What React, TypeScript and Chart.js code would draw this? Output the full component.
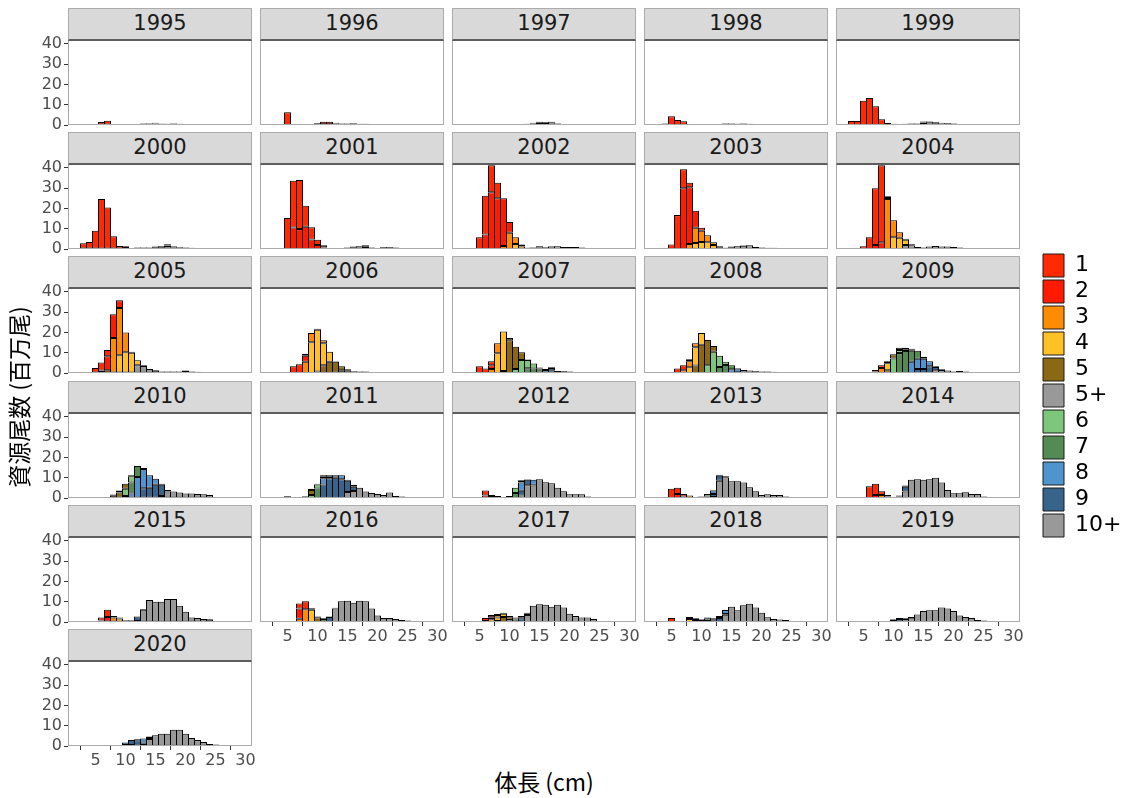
import React, { useEffect, useRef } from 'react';
import { Chart, registerables } from 'chart.js';

Chart.register(...registerables);

// ---- categories / legend ----
const AGES = ['1', '2', '3', '4', '5', '5+', '6', '7', '8', '9', '10+'];
const AGE_COLORS = ['#FF2A00', '#FF1A00', '#FF8C00', '#FFC125', '#8B6914', '#999999', '#7CC77C', '#548B54', '#4F94CD', '#36648B', '#999999'];
const YEARS = [1995, 1996, 1997, 1998, 1999, 2000, 2001, 2002, 2003, 2004, 2005, 2006, 2007, 2008, 2009, 2010, 2011, 2012, 2013, 2014, 2015, 2016, 2017, 2018, 2019, 2020];
const X_TICKS = [5, 10, 15, 20, 25, 30];
const Y_TICKS = [0, 10, 20, 30, 40];
const X_TITLE = '体長 (cm)';
const Y_TITLE = '資源尾数 (百万尾)';

// each entry: age -> [first length bin (cm), values (million fish) for consecutive 1-cm bins]
type Series = Record<string, [number, number[]]>;

const Y1995: Series = {
  '1': [4, [0.2, 0.4, 1.2, 1.8, 0.3, 0.2]],
  '2': [6, [0.3, 0.3, 0.2, 0.2, 0.2, 0.3]],
  '3': [12, [0.3, 0.3, 0.2, 0.2]],
  '4': [13, [0.3, 0.3, 0.3, 0.2]],
  '5': [14, [0.2, 0.3, 0.3, 0.2, 0.2]],
  '5+': [13, [0.2, 0.2, 0.3, 0.3, 0.4, 0.5, 0.6, 0.5, 0.4, 0.3, 0.2]],
};
const Y1996: Series = {
  '1': [4, [0.2, 6.3, 0.3, 0.2, 0.2]],
  '2': [9, [0.3, 0.6, 1.2, 1.2, 0.4]],
  '3': [10, [0.3, 0.4, 0.4, 0.3]],
  '4': [13, [0.2, 0.3, 0.3, 0.3]],
  '5': [14, [0.2, 0.3, 0.5, 0.3, 0.2]],
  '5+': [13, [0.2, 0.2, 0.2, 0.2, 0.3, 0.4, 0.4, 0.4, 0.3, 0.2, 0.1]],
};
const Y1997: Series = {
  '1': [3, [0.2, 0.2, 0.2, 0.2, 0.2]],
  '2': [7, [0.2, 0.2, 0.2, 0.3, 0.3]],
  '3': [11, [0.2, 0.3, 0.3, 0.4, 0.5, 0.4, 0.3]],
  '4': [13, [0.3, 0.4, 0.6, 0.6, 0.6, 0.3]],
  '5': [14, [0.2, 0.3, 0.3, 0.4, 0.3, 0.2]],
  '5+': [14, [0.1, 0.2, 0.2, 0.3, 0.3, 0.3, 0.3, 0.2, 0.1]],
};
const Y1998: Series = {
  '1': [4, [0.7, 4.3, 2.5, 1.8, 0.3]],
  '2': [8, [0.2, 0.2, 0.2, 0.2, 0.2]],
  '3': [12, [0.2, 0.2, 0.3]],
  '4': [13, [0.2, 0.2, 0.2, 0.2]],
  '5': [14, [0.2, 0.3, 0.3, 0.3, 0.2]],
  '5+': [14, [0.2, 0.2, 0.3, 0.4, 0.4, 0.4, 0.3, 0.2]],
};
const Y1999: Series = {
  '1': [3, [2.0, 2.0, 12.0, 13.3, 9.2, 2.8, 1.0, 0.3]],
  '2': [10, [0.3, 0.4, 0.4, 0.4]],
  '3': [12, [0.2, 0.3, 0.4, 0.5, 0.4]],
  '4': [14, [0.3, 0.7, 0.6, 0.3]],
  '5': [15, [0.3, 0.4, 0.4, 0.3]],
  '5+': [15, [0.2, 0.3, 0.6, 0.8, 0.9, 0.8, 0.5, 0.3]],
};
const Y2000: Series = {
  '1': [3, [2.8, 3.5, 9.0, 24.6, 20.5, 6.0, 1.2, 0.8]],
  '2': [8, [0.3, 0.3, 0.5, 0.5, 0.4, 0.3]],
  '3': [12, [0.3, 0.4, 0.6, 0.6, 0.5, 0.6, 0.3]],
  '4': [14, [0.2, 0.3, 0.4, 0.9, 0.4]],
  '5': [15, [0.2, 0.3, 0.5, 0.3, 0.3]],
  '5+': [15, [0.1, 0.2, 0.3, 0.5, 0.7, 0.7, 0.6, 0.5, 0.3, 0.1]],
};
const Y2001: Series = {
  '1': [4, [0.3, 15.3, 23.0, 24.2, 10.3, 6.0, 2.5, 1.0]],
  '2': [6, [10.6, 9.8, 11.0, 4.7, 2.0, 0.8, 0.3]],
  '3': [12, [0.2, 0.3, 0.3, 0.4, 0.6, 0.5, 0.4]],
  '4': [15, [0.3, 0.3, 0.4, 1.0, 0.3]],
  '5': [16, [0.2, 0.3, 0.3, 0.3, 0.2]],
  '5+': [16, [0.1, 0.1, 0.1, 0.2, 0.3, 0.9, 0.9, 0.7, 0.3, 0.2]],
};
const Y2002: Series = {
  '1': [5, [5.8, 19.1, 13.3, 7.7]],
  '2': [6, [7.2, 28.0, 25.0, 23.5, 5.3]],
  '3': [9, [1.5, 8.0, 3.3, 1.0, 0.2, 0.2, 0.4, 0.2]],
  '4': [11, [2.5, 1.2, 0.3, 0.2, 0.4, 0.3]],
  '5': [13, [0.3, 0.3, 0.4, 0.3, 0.3]],
  '5+': [14, [0.2, 0.3, 0.2, 1.2, 1.4, 1.0, 1.0, 1.0, 0.7, 0.5, 0.3]],
};
const Y2003: Series = {
  '1': [4, [0.5, 2.2, 16.7, 9.3, 2.2]],
  '2': [7, [30.0, 28.0, 8.3, 1.5]],
  '3': [8, [2.5, 7.5, 5.5, 3.5, 1.3, 0.4, 0.2]],
  '4': [9, [3.0, 3.5, 3.3, 2.0, 0.5, 0.2]],
  '5': [13, [0.4, 0.3, 0.3, 0.2, 0.2]],
  '5+': [14, [0.1, 0.9, 1.3, 1.6, 1.8, 1.0, 0.7, 0.6, 0.6, 0.3, 0.2]],
};
const Y2004: Series = {
  '1': [4, [0.3, 1.3, 5.8, 28.0, 38.0, 0.8]],
  '2': [7, [2.0, 3.3, 0.5]],
  '3': [9, [24.7, 8.4, 2.8, 0.5]],
  '4': [10, [5.8, 5.5, 2.5, 0.4]],
  '5+': [12, [2.0, 1.9, 1.0, 0.7, 1.2, 1.5, 1.2, 1.2, 1.0, 0.8, 0.5, 0.4, 0.2]],
};
const Y2005: Series = {
  '1': [5, [2.5, 4.0, 3.0]],
  '2': [6, [1.2, 7.0, 11.7, 3.7]],
  '3': [7, [1.3, 17.2, 23.3, 9.8, 0.5]],
  '4': [9, [8.8, 10.2, 10.0, 2.5, 0.3]],
  '5+': [12, [3.8, 3.5, 2.0, 1.3, 0.8, 0.8, 0.8, 0.8, 1.2, 0.8, 0.6, 0.4, 0.2]],
};
const Y2006: Series = {
  '1': [5, [0.3, 3.3, 4.3, 1.0]],
  '2': [8, [3.0]],
  '3': [8, [5.5, 4.5, 0.5, 1.5]],
  '4': [9, [15.2, 20.5, 10.9, 5.0, 0.3]],
  '5': [10, [0.8, 3.8, 5.5, 5.2, 2.0, 0.5]],
  '6': [13, [0.3, 1.0, 0.7, 0.3]],
  '7': [14, [0.3, 0.6, 0.4, 0.3, 0.3]],
  '8': [16, [0.3, 0.3, 0.3, 0.3, 0.2]],
  '9': [17, [0.2, 0.2, 0.2, 0.2, 0.2]],
};
const Y2007: Series = {
  '1': [4, [0.3, 3.3, 2.2, 2.0]],
  '2': [7, [1.8]],
  '3': [7, [2.0, 5.0]],
  '4': [8, [9.7, 19.5, 1.0]],
  '5': [9, [1.0, 16.2, 11.0, 3.8, 0.3]],
  '6': [11, [2.0, 6.4, 4.0, 2.5, 0.5]],
  '7': [13, [2.4, 2.2, 2.0, 0.5, 0.3]],
  '8': [15, [0.2, 1.3, 1.2, 0.5, 0.4]],
  '9': [16, [0.2, 1.3, 0.5, 0.6, 0.4, 0.3]],
  '10+': [20, [0.3, 0.2, 0.3, 0.3, 0.3]],
};
const Y2008: Series = {
  '1': [5, [0.3, 2.2, 2.5, 1.0]],
  '3': [7, [1.3, 3.0, 2.0]],
  '4': [8, [2.8, 9.0, 5.8]],
  '5': [9, [3.7, 13.9, 12.5, 2.8]],
  '6': [11, [3.8, 10.5, 5.5, 1.5]],
  '7': [13, [3.0, 4.0, 2.0, 0.3]],
  '8': [15, [1.8, 1.8, 0.8, 0.4]],
  '9': [16, [0.4, 0.7, 0.8, 0.4]],
  '10+': [19, [0.6, 0.8, 0.7, 0.6, 0.4, 0.3]],
};
const Y2009: Series = {
  '1': [4, [0.3, 0.3, 0.2, 0.8, 1.3]],
  '3': [7, [0.7, 2.5, 1.0]],
  '4': [9, [3.5]],
  '5': [9, [1.3, 2.0, 1.2, 0.8, 0.4]],
  '6': [10, [7.2, 1.5, 0.8, 0.5]],
  '7': [11, [9.8, 10.9, 5.5, 4.0, 1.0]],
  '8': [13, [5.5, 5.0, 5.0, 2.5, 0.3]],
  '9': [14, [2.0, 2.0, 3.3, 1.7, 0.3]],
  '10+': [17, [1.3, 1.5, 1.2, 0.8, 1.0, 0.7, 0.5, 0.3]],
};
const Y2010: Series = {
  '1': [3, [0.2, 0.3, 0.3, 0.3, 0.3]],
  '3': [7, [0.2, 0.3, 1.0]],
  '5': [8, [1.4, 2.7, 2.5, 0.5]],
  '6': [10, [3.5, 3.0]],
  '7': [10, [1.0, 5.5, 5.5, 0.5]],
  '8': [11, [2.2, 10.3, 9.5, 6.2, 3.0, 0.5]],
  '9': [13, [4.8, 5.0, 6.5, 5.5, 0.8]],
  '10+': [16, [1.0, 3.2, 3.2, 2.7, 2.2, 2.2, 2.0, 1.8, 1.5, 0.5, 0.2]],
};
const Y2011: Series = {
  '1': [4, [0.5, 0.7, 0.3, 0.3]],
  '2': [5, [0.2, 0.2, 0.2]],
  '3': [8, [0.3, 0.5]],
  '5': [8, [0.7, 2.5, 0.3]],
  '6': [9, [1.5, 2.0, 0.5]],
  '7': [10, [4.7, 1.0, 0.5]],
  '8': [11, [3.0, 1.0, 1.2, 2.0, 0.5, 1.0]],
  '9': [11, [6.7, 9.7, 10.0, 9.2, 5.5, 2.0]],
  '10+': [15, [3.0, 3.5, 5.0, 3.2, 2.5, 2.0, 1.5, 2.7, 1.0, 0.8, 0.5, 0.3]],
};
const Y2012: Series = {
  '1': [5, [0.5, 2.5, 1.0, 0.5]],
  '2': [6, [1.2, 0.5]],
  '3': [8, [0.5, 0.3]],
  '5': [9, [0.2, 0.5]],
  '6': [10, [0.5, 2.5, 0.3]],
  '7': [11, [2.5, 0.8]],
  '8': [12, [4.0, 0.3, 2.5]],
  '9': [12, [2.4, 2.7, 0.3]],
  '10+': [12, [1.2, 6.3, 6.2, 9.2, 7.8, 7.3, 5.0, 3.3, 1.8, 1.8, 1.8, 0.8, 0.5, 0.3]],
};
const Y2013: Series = {
  '1': [4, [0.3, 4.5, 3.0, 1.2]],
  '2': [6, [2.0]],
  '3': [7, [0.8, 1.2]],
  '5': [9, [0.3, 0.4]],
  '6': [10, [0.4, 1.2]],
  '7': [11, [0.8, 0.3]],
  '8': [12, [1.7, 0.5]],
  '9': [12, [1.5, 2.5, 0.5]],
  '10+': [12, [0.5, 8.5, 10.2, 8.3, 8.2, 7.7, 5.3, 3.3, 1.5, 1.8, 1.5, 1.5, 0.8, 0.3]],
};
const Y2014: Series = {
  '1': [4, [0.5, 0.5, 5.8, 5.5, 1.8]],
  '2': [7, [1.5]],
  '3': [8, [1.5, 0.8]],
  '4': [9, [0.7]],
  '5': [10, [0.3, 0.4]],
  '7': [10, [0.2, 0.4]],
  '8': [11, [0.2, 0.6]],
  '9': [11, [0.2, 2.4]],
  '10+': [12, [3.2, 9.0, 9.3, 9.0, 9.3, 10.0, 7.7, 4.0, 2.3, 2.3, 2.8, 2.0, 2.0, 0.8, 0.3]],
};
const Y2015: Series = {
  '1': [6, [1.5, 3.5, 0.8]],
  '2': [6, [0.7, 2.5]],
  '3': [8, [2.2, 0.5]],
  '4': [9, [1.7, 0.3]],
  '5': [10, [0.4, 0.3]],
  '7': [10, [0.3, 0.4]],
  '9': [11, [0.3, 2.2, 0.3]],
  '10+': [12, [0.5, 6.1, 10.8, 10.0, 10.0, 11.3, 11.3, 8.0, 5.0, 2.2, 2.0, 1.5, 1.3, 0.5, 0.3, 0.2]],
};
const Y2016: Series = {
  '1': [5, [0.2, 0.5, 2.5, 3.9]],
  '2': [7, [5.0]],
  '3': [7, [1.6, 6.3, 0.8]],
  '4': [9, [6.0, 0.3]],
  '5': [10, [2.4, 0.3]],
  '7': [11, [1.5, 0.2]],
  '9': [12, [2.5, 0.3]],
  '10+': [13, [6.7, 10.2, 10.5, 9.5, 10.5, 10.2, 6.6, 3.2, 2.0, 2.0, 1.5, 1.0, 0.8, 0.4, 0.2]],
};
const Y2017: Series = {
  '1': [4, [0.3, 0.5, 1.5, 1.0]],
  '2': [6, [0.5, 1.0, 0.5]],
  '3': [7, [1.4, 1.2, 0.5]],
  '4': [8, [1.7, 1.6, 0.5]],
  '5': [8, [0.5, 2.5, 1.4, 0.5]],
  '6': [10, [0.3, 0.5]],
  '7': [10, [0.7, 1.2, 0.5]],
  '8': [12, [0.5, 0.5]],
  '9': [12, [1.9, 0.6]],
  '10+': [13, [3.5, 8.0, 8.8, 8.5, 7.5, 8.5, 7.1, 4.1, 2.9, 2.2, 2.2, 1.5, 0.5, 0.5, 0.3]],
};
const Y2018: Series = {
  '1': [4, [0.2, 2.0, 0.5, 0.3]],
  '3': [7, [0.2, 1.0]],
  '4': [8, [1.5, 0.8]],
  '5': [9, [1.0, 0.3]],
  '6': [10, [0.7, 0.4]],
  '7': [10, [0.5, 1.3, 0.7]],
  '8': [11, [0.5, 0.5, 0.9, 2.0]],
  '9': [12, [0.6, 2.0, 0.3]],
  '10+': [14, [3.6, 7.5, 5.8, 8.3, 9.0, 7.1, 4.6, 2.4, 1.5, 1.2, 1.0, 0.4, 0.3]],
};
const Y2019: Series = {
  '8': [10, [0.3, 0.5, 0.4]],
  '9': [9, [0.3, 1.0, 1.2, 0.8, 0.6]],
  '10+': [7, [0.2, 0.3, 0.2, 0.2, 0.3, 0.8, 1.9, 3.7, 5.4, 5.8, 5.8, 7.1, 6.6, 5.4, 3.2, 2.5, 2.0, 1.0, 0.8, 0.5, 0.3]],
};
const Y2020: Series = {
  '8': [12, [0.5, 2.0, 0.8]],
  '9': [10, [1.2, 2.5, 2.5, 1.2, 0.5]],
  '10+': [5, [0.2, 0.2, 0.3, 0.3, 0.5, 0.5, 0.5, 0.3, 0.5, 3.4, 5.3, 6.0, 6.0, 8.0, 8.0, 6.0, 4.0, 3.0, 2.0, 1.0, 0.7, 0.5, 0.3, 0.2]],
};

const YEAR_SERIES: Series[] = [
  Y1995, Y1996, Y1997, Y1998, Y1999, Y2000, Y2001, Y2002, Y2003, Y2004,
  Y2005, Y2006, Y2007, Y2008, Y2009, Y2010, Y2011, Y2012, Y2013, Y2014,
  Y2015, Y2016, Y2017, Y2018, Y2019, Y2020,
];

// ---- layout ----
const COL_LEFT = 68;
const COL_PITCH = 192;
const PANEL_W = 184;
const ROW_TOP = 8;
const ROW_PITCH = 124.2;
const STRIP_H = 32;
const PLOT_H = 85;
const AXW = 44;
const AXH = 28;
const PADT = 18;
const PADR = 16;
const X_MIN = 0.5 - 1 / 12;
const X_MAX = X_MIN + PANEL_W / 6;
const Y_MAX = 41.9;

const TICK_FONT = { family: 'DejaVu Sans', size: 16 };

const panelBorder = {
  id: 'panelBorder',
  afterDatasetsDraw(chart: any) {
    const { ctx, chartArea: a } = chart;
    ctx.save();
    ctx.strokeStyle = '#ABABAB';
    ctx.lineWidth = 1;
    ctx.strokeRect(a.left + 0.5, a.top + 0.5, a.right - a.left - 1, a.bottom - a.top - 1);
    ctx.restore();
  },
};

function Panel({ index }: { index: number }) {
  const ref = useRef<HTMLCanvasElement>(null);
  const year = YEARS[index];
  const col = index % 5;
  const row = Math.floor(index / 5);
  const showY = col === 0;
  const showX = row === 5 || (row === 4 && col > 0);
  const colLeft = COL_LEFT + col * COL_PITCH;
  const stripTop = Math.round(ROW_TOP + row * ROW_PITCH);
  const plotTop = stripTop + STRIP_H;
  const cw = AXW + PANEL_W + PADR;
  const ch = PADT + PLOT_H + AXH;

  useEffect(() => {
    const series = YEAR_SERIES[index];
    const order = [...AGES].reverse();
    const datasets = order.map((age) => {
      const idx = AGES.indexOf(age);
      const s = series[age];
      const data = s ? s[1].map((v, i) => ({ x: s[0] + i, y: v })) : [];
      return {
        label: age,
        data,
        backgroundColor: AGE_COLORS[idx],
        borderColor: '#000000',
        borderWidth: 1,
        borderSkipped: false as any,
        barPercentage: 7 / 6,
        categoryPercentage: 1,
      };
    });
    const chart = new Chart(ref.current!, {
      type: 'bar',
      data: { datasets: datasets as any },
      plugins: [panelBorder],
      options: {
        responsive: false,
        animation: false,
        events: [],
        layout: { padding: { top: PADT, right: PADR, left: 0, bottom: 0 } },
        plugins: { legend: { display: false }, tooltip: { enabled: false } },
        scales: {
          x: {
            type: 'linear',
            min: X_MIN,
            max: X_MAX,
            stacked: true,
            offset: false,
            afterBuildTicks: (s: any) => { s.ticks = X_TICKS.map((v) => ({ value: v })); },
            afterFit: (s: any) => { s.height = AXH; },
            border: { display: false },
            grid: { display: showX, drawOnChartArea: false, drawTicks: true, tickLength: 4, tickColor: '#333333', color: '#333333' },
            ticks: { display: showX, font: TICK_FONT, color: '#4D4D4D', padding: 1, maxRotation: 0, autoSkip: false },
          },
          y: {
            type: 'linear',
            min: 0,
            max: Y_MAX,
            stacked: true,
            afterBuildTicks: (s: any) => { s.ticks = Y_TICKS.map((v) => ({ value: v })); },
            afterFit: (s: any) => { s.width = AXW; },
            border: { display: false },
            grid: { display: showY, drawOnChartArea: false, drawTicks: true, tickLength: 4, tickColor: '#333333', color: '#333333' },
            ticks: { display: showY, font: TICK_FONT, color: '#4D4D4D', padding: 2, autoSkip: false },
          },
        },
      } as any,
    });
    return () => chart.destroy();
  }, [index]);

  return (
    <>
      <canvas
        ref={ref}
        width={cw}
        height={ch}
        style={{ position: 'absolute', left: colLeft - AXW, top: plotTop - PADT, width: cw, height: ch }}
      />
      <div
        style={{
          position: 'absolute',
          left: colLeft,
          top: stripTop,
          width: PANEL_W,
          height: STRIP_H + 1,
          boxSizing: 'border-box',
          background: '#D9D9D9',
          borderTop: '1px solid #ABABAB',
          borderLeft: '1px solid #ABABAB',
          borderRight: '1px solid #ABABAB',
          borderBottom: '2px solid #5E5E5E',
          fontFamily: 'DejaVu Sans, sans-serif',
          fontSize: 21,
          color: '#1A1A1A',
          textAlign: 'center',
          lineHeight: `${STRIP_H - 3}px`,
        }}
      >
        {year}
      </div>
    </>
  );
}

function Legend() {
  const ref = useRef<HTMLCanvasElement>(null);
  useEffect(() => {
    const chart = new Chart(ref.current!, {
      type: 'bar',
      data: {
        labels: [],
        datasets: AGES.map((age, i) => ({
          label: age,
          data: [],
          backgroundColor: AGE_COLORS[i],
          borderColor: '#1A1A1A',
          borderWidth: 1,
        })),
      },
      options: {
        responsive: false,
        animation: false,
        events: [],
        layout: { padding: 0 },
        scales: { x: { display: false }, y: { display: false } },
        plugins: {
          tooltip: { enabled: false },
          legend: {
            position: 'left',
            align: 'start',
            maxWidth: 200,
            labels: {
              boxWidth: 21,
              boxHeight: 23,
              padding: 3,
              color: '#000000',
              font: { family: 'DejaVu Sans', size: 22 },
            },
          },
        },
      } as any,
    });
    return () => chart.destroy();
  }, []);
  return (
    <canvas
      ref={ref}
      width={400}
      height={320}
      style={{ position: 'absolute', left: 1039.5, top: 250.5, width: 400, height: 320 }}
    />
  );
}

export default function App() {
  useEffect(() => {
    document.body.style.margin = '0';
  }, []);
  return (
    <div style={{ position: 'absolute', left: 0, top: 0, width: 1131, height: 798, background: '#ffffff', overflow: 'hidden' }}>
      {YEARS.map((y, i) => (
        <Panel key={y} index={i} />
      ))}
      <Legend />
      <div
        style={{
          position: 'absolute',
          left: 544 - 150,
          top: 781 - 16,
          width: 300,
          height: 32,
          lineHeight: '32px',
          textAlign: 'center',
          fontFamily: '"Noto Sans CJK JP", sans-serif',
          fontSize: 23,
          color: '#000',
        }}
      >
        {X_TITLE}
      </div>
      <div
        style={{
          position: 'absolute',
          left: 18 - 150,
          top: 397 - 16,
          width: 300,
          height: 32,
          lineHeight: '32px',
          textAlign: 'center',
          fontFamily: '"Noto Sans CJK JP", sans-serif',
          fontSize: 23,
          color: '#000',
          transform: 'rotate(-90deg)',
        }}
      >
        {Y_TITLE}
      </div>
    </div>
  );
}
